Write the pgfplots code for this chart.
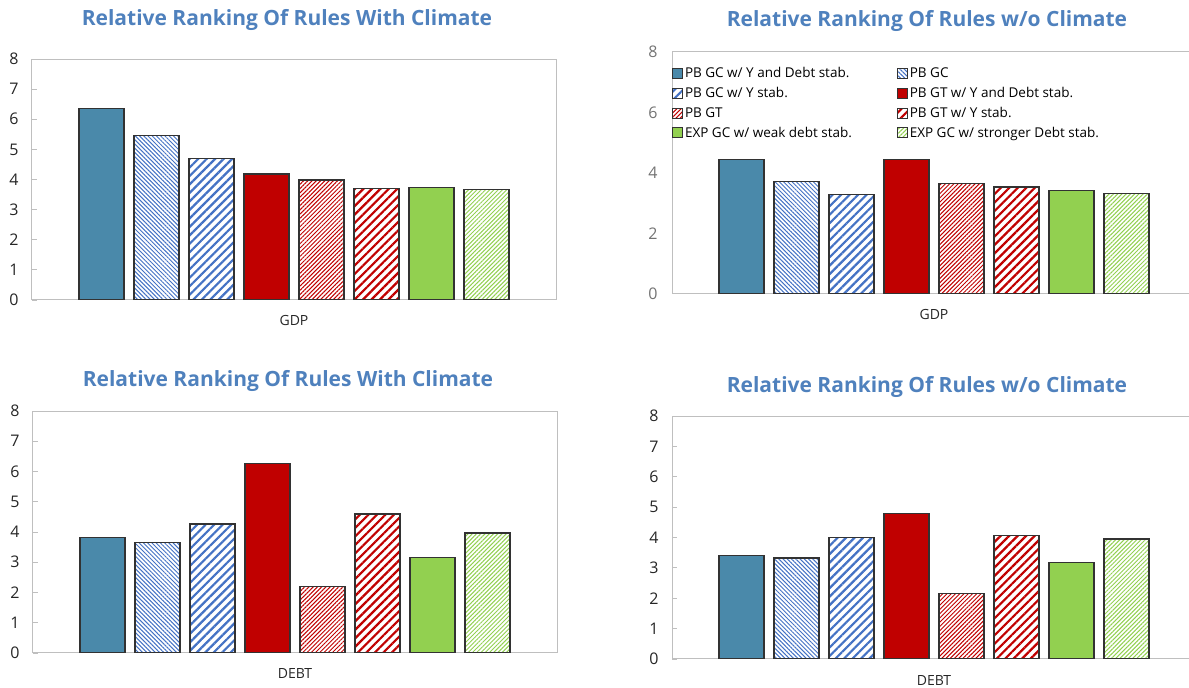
\documentclass[border=0pt]{standalone}
\usepackage{fontspec}
\setmainfont{Open Sans}
\usepackage{pgfplots}
\pgfplotsset{compat=1.18}
\usetikzlibrary{patterns.meta}

\definecolor{cteal}{RGB}{74,137,170}
\definecolor{cblue}{RGB}{68,114,196}
\definecolor{cred}{RGB}{192,0,0}
\definecolor{cgreen}{RGB}{146,208,80}
\definecolor{titleblue}{RGB}{79,129,189}
\definecolor{boxgray}{RGB}{191,191,191}
\definecolor{edge}{RGB}{50,50,50}

\pgfplotsset{
  panel/.style={
    scale only axis, width=524pt,
    ybar, bar width=0.82, bar shift=0pt,
    xmin=-0.264, xmax=9.264, ymin=0, ymax=8,
    axis line style={draw=boxgray, line width=1pt},
    xtick={4.5}, major x tick style={draw=none},
    ytick pos=left, tick align=inside, major tick length=5pt,
    major y tick style={draw=boxgray, line width=0.8pt},
    /pgf/number format/assume math mode=true,
    tick label style={font=\fontsize{16}{18}\selectfont, text=black!85},
    xticklabel style={anchor=center, yshift=-21pt, font=\fontsize{14}{16}\selectfont},
    yticklabel style={anchor=center, xshift=-18pt},
    title style={at={(0.5,1)}, anchor=center, xshift=-7pt,
      font=\fontsize{21}{24}\selectfont\bfseries, text=titleblue},
    every axis plot/.append style={line width=1.3pt},
    legend image code/.code={\draw[##1, line width=0.8pt] (0pt,-5pt) rectangle (10pt,5pt);},
  },
  s1/.style={fill=cteal, draw=edge},
  s2/.style={pattern={Lines[angle=-45, distance=3pt, line width=1pt]}, pattern color=cblue, draw=edge},
  s3/.style={pattern={Lines[angle=45, distance=6pt, line width=2.2pt]}, pattern color=cblue, draw=edge},
  s4/.style={fill=cred, draw=edge},
  s5/.style={pattern={Lines[angle=45, distance=3pt, line width=1pt]}, pattern color=cred, draw=edge},
  s6/.style={pattern={Lines[angle=45, distance=6pt, line width=2.2pt]}, pattern color=cred, draw=edge},
  s7/.style={fill=cgreen, draw=edge},
  s8/.style={pattern={Lines[angle=45, distance=3pt, line width=1pt]}, pattern color=cgreen, draw=edge},
}

\begin{document}
\begin{tikzpicture}[x=1pt,y=1pt]
\path[use as bounding box] (0,0) rectangle (1189,688);

% Top left: GDP, with climate
\begin{axis}[panel, at={(32pt,388pt)}, anchor=south west, height=241pt,
  ytick={0,1,...,8}, xticklabels={GDP},
  title={Relative Ranking Of Rules With Climate}, title style={yshift=33pt}]
\addplot[s1] coordinates {(1,6.35)};
\addplot[s2] coordinates {(2,5.47)};
\addplot[s3] coordinates {(3,4.69)};
\addplot[s4] coordinates {(4,4.18)};
\addplot[s5] coordinates {(5,3.98)};
\addplot[s6] coordinates {(6,3.70)};
\addplot[s7] coordinates {(7,3.73)};
\addplot[s8] coordinates {(8,3.66)};
\end{axis}

% Top right: GDP, without climate
\begin{axis}[panel, at={(672pt,394pt)}, anchor=south west, height=242pt,
  ytick={0,2,...,8}, xticklabels={GDP}, major y tick style={draw=none},
  yticklabel style={text=black!55, xshift=-1pt},
  title={Relative Ranking Of Rules w/o Climate}, title style={yshift=25pt},
  legend columns=2,
  legend style={draw=none, fill=none, at={(0,1)}, anchor=north west, yshift=-14.5pt,
    font=\fontsize{13.5}{16}\selectfont, inner sep=0pt, row sep=6pt,
    /tikz/every even column/.append style={column sep=4pt},
    nodes={inner xsep=2pt, inner ysep=1pt}},
  legend cell align=left]
\addplot[s1] coordinates {(1,4.45)};
\addplot[s2] coordinates {(2,3.71)};
\addplot[s3] coordinates {(3,3.28)};
\addplot[s4] coordinates {(4,4.45)};
\addplot[s5] coordinates {(5,3.66)};
\addplot[s6] coordinates {(6,3.54)};
\addplot[s7] coordinates {(7,3.42)};
\addplot[s8] coordinates {(8,3.32)};
\legend{\makebox[206pt][l]{PB GC w/ Y and Debt stab.}, PB GC,
        \makebox[206pt][l]{PB GC w/ Y stab.}, PB GT w/ Y and Debt stab.,
        \makebox[206pt][l]{PB GT}, PB GT w/ Y stab.,
        \makebox[206pt][l]{EXP GC w/ weak debt stab.}, EXP GC w/ stronger Debt stab.}
\end{axis}

% Bottom left: DEBT, with climate
\begin{axis}[panel, at={(33pt,35pt)}, anchor=south west, height=242pt,
  ytick={0,1,...,8}, xticklabels={DEBT},
  title={Relative Ranking Of Rules With Climate}, title style={yshift=24pt}]
\addplot[s1] coordinates {(1,3.82)};
\addplot[s2] coordinates {(2,3.66)};
\addplot[s3] coordinates {(3,4.26)};
\addplot[s4] coordinates {(4,6.27)};
\addplot[s5] coordinates {(5,2.20)};
\addplot[s6] coordinates {(6,4.60)};
\addplot[s7] coordinates {(7,3.15)};
\addplot[s8] coordinates {(8,3.97)};
\end{axis}

% Bottom right: DEBT, without climate
\begin{axis}[panel, at={(672pt,29pt)}, anchor=south west, height=243pt,
  ytick={0,1,...,8}, xticklabels={DEBT}, xticklabel style={yshift=-1pt},
  title={Relative Ranking Of Rules w/o Climate}, title style={yshift=23pt}]
\addplot[s1] coordinates {(1,3.40)};
\addplot[s2] coordinates {(2,3.33)};
\addplot[s3] coordinates {(3,4.00)};
\addplot[s4] coordinates {(4,4.79)};
\addplot[s5] coordinates {(5,2.15)};
\addplot[s6] coordinates {(6,4.07)};
\addplot[s7] coordinates {(7,3.17)};
\addplot[s8] coordinates {(8,3.95)};
\end{axis}
\end{tikzpicture}
\end{document}
